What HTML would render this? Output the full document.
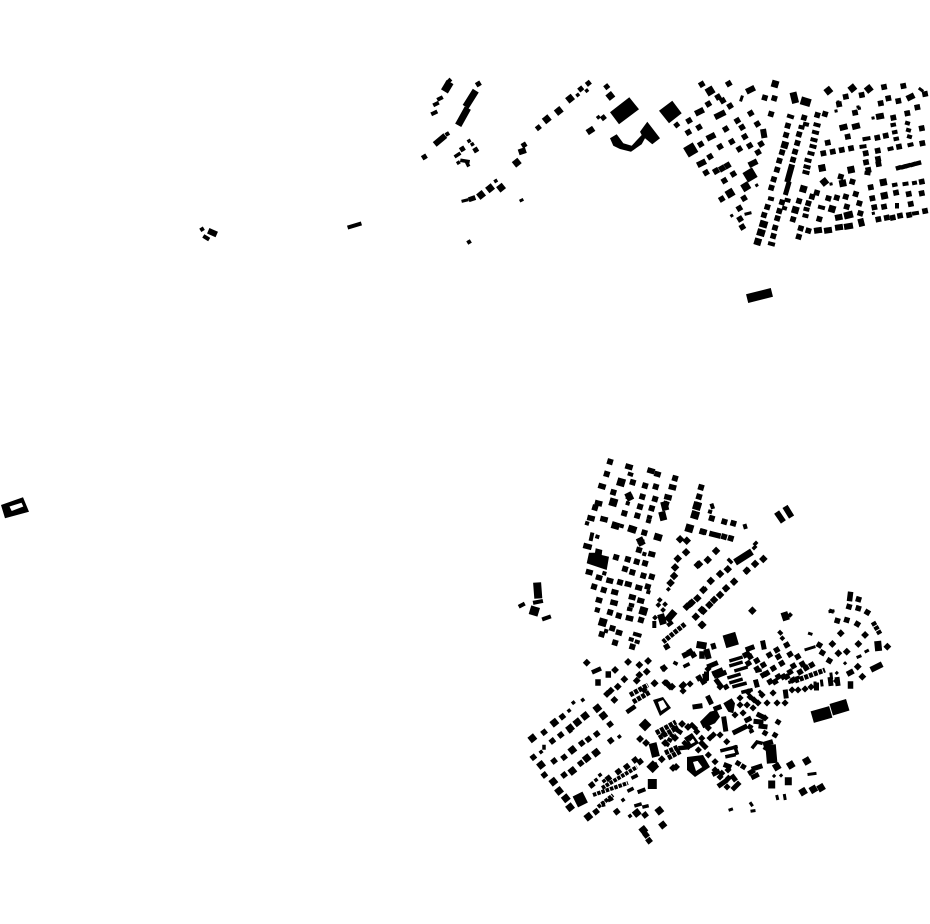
<!DOCTYPE html>
<html><head><meta charset="utf-8"><title>Figure-ground map</title>
<style>html,body{margin:0;padding:0;background:#fff}svg{display:block}</style></head>
<body>
<svg xmlns="http://www.w3.org/2000/svg" width="930" height="924" viewBox="0 0 930 924">
<rect width="930" height="924" fill="#fff"/>
<g fill="none" stroke="#000" stroke-linecap="square">
<!-- top right: west wedge -->
<path stroke-width="5.6" d="M701.7 84.3l.1-.06M728.7 83.7l.1-.06M718 97l.1-.06M722.7 100.7l.1-.06M730 106l.1-.06M708.3 104l.1-.06M689 120.7l.1-.06M688.3 132.3l.1-.06M699 127.3l.1-.06M725.7 129l.1-.06M737.3 120.7l.1-.06M750.7 113.3l.1-.06M757.3 124l.1-.06M742 127.3l.1-.06M706 172.7l.1-.06M733.3 174l.1-.06M724.3 180.7l.1-.06M721.7 199l.1-.06M700.7 144.3l.1-.06M720 146.7l.1-.06M731.7 141.7l.1-.06M744.7 136.7l.1-.06M739.3 149l.1-.06M749.7 145.7l.1-.06M761 144l.1-.06M758 152.3l.1-.06M710 156.7l.1-.06M739.3 208.3l.1-.06M740 219l.1-.06M742.3 227l.1-.06M744 198.3l.1-.06"/>
<path stroke-width="8" d="M710 91l.1-.06M730 193.3l.1-.06M745.7 186.7l.1-.06"/>
<path stroke-width="11" d="M690.7 150l.1-.06M750 175l.1-.06"/>
<path stroke-width="6" d="M749 90.5l3-1.500M698 112.500l3-1.500M717.500 116l5-2.500M709.500 137.500l3-1.500M700 164l3-1.500M751.500 164l3-1.500M716 171l.1-.06M722 168.500l.1-.06M727.500 165.500l.1-.06M763.500 132l.5 3"/>
<path stroke-width="3" d="M741 100l1-3M731.700 215.700l.1-.06M746 214l4-1M756.700 185.300l.1-.06"/>
<!-- top right: columns -->
<path stroke-width="5.600" d="M787.700 125.700l.1.03M786 135l.1.03M782 152.300l.1.03M779.300 160.700l.1.03M777 169.700l.1.03M773.700 179.300l.1.03M771.300 187.700l.1.03M767.300 207l.1.03M764 215l.1.03M804 117.700l.1.03M799 134.300l.1.03M797.300 143l.1.03M795 151.700l.1.03M793 159.700l.1.03M782 202.300l.1.03M779.300 211l.1.03M777.300 218.300l.1.03M775 227.700l.1.03M773.300 236l.1.03M817.300 115l.1.03M825 114l.1.03M799 201l.1.03M793 219.300l.1.03M808.300 203.300l.1.03M816.700 192.700l.1.03M812 196.700l.1.03M828.300 198.300l.1.03M836.700 197.700l.1.03M845.700 196.700l.1.03M855.700 194l.1.03M846.700 206.700l.1.03M859.300 203.300l.1.03M819.300 219l.1.03M860.300 213.300l.1.03M840.700 176.700l.1.03M852.300 181.700l.1.03M800.700 228.300l.1.03M798.700 236.700l.1.03M808.300 230.700l.1.03M771 114l.1.03M764.700 97.700l.1.03M774.300 98.300l.1.03"/>
<path stroke-width="7" d="M784.700 145l.1.03M795.300 210l.1.03M832 209l.1.03M775 84l.1.03M803.300 189l.1.03M763 224l1 .3M760.500 232.500l1 .3M757.700 241.700l.1.03M847.500 215.300l2-.5"/>
<path stroke-width="4" d="M789 116l3 1M770 198.500l2 .500M800.500 127l2 .500M805 124l2 .5M815.500 124.500l3 .8M814 132l3 .8M812.500 139.500l3 .8M811.500 146l3 .8M809.500 153l3 .8M806.500 160l3 .8M805.500 166.500l3 .8M804.500 172l3 .8M820 207l3 .8M805.500 209l2 .5M804.500 215.500l2 .5M770 243.500l3 .8M786.500 200l2 .5M784 208l1 .3"/>
<path stroke-width="6" d="M791.300 167.300L788 179.300"/>
<path stroke-width="5" d="M788.500 184L786 192.600"/>
<path stroke-width="7" d="M793.800 95.700l1 4"/>
<path stroke-width="8" d="M804.700 101.400l2 .6"/>
<!-- top right: east -->
<path stroke-width="5.600" d="M845.700 96.700l.1-.02M861.700 95l.1-.02M884 87l.1-.02M903.300 86l.1-.02M925 94l.1-.02M898.300 101l.1-.02M888.300 98.300l.1-.02M880.700 103.300l.1-.02M917.300 107.300l.1-.02M855 112.700l.1-.02M893.300 117.700l.1-.02M907.300 113.300l.1-.02M921.700 128.300l.1-.02M922.300 143.300l.1-.02M899 146.700l.1-.02M877.700 150.700l.1-.02M865.700 153.300l.1-.02M866 162.300l.1-.02M868.300 170l.1-.02M878 159l.1-.02M878.500 164l.1-.02M839 104.300l.1-.02M921.700 181.700l.1-.02M896 192.700l.1-.02M908.700 194l.1-.02M921.700 193.300l.1-.02M874.300 207.300l.1-.02M910.700 204l.1-.02M925 211l.1-.02M909 215l.1-.02M900 215.700l.1-.02M892.700 217.700l.1-.02M886.700 217.700l.1-.02M878.300 219.300l.1-.02M823.300 153.300l.1-.02M851 148.300l.1-.02M832.700 151.700l.1-.02M841.700 150l.1-.02M827.700 142.700l.1-.02M847.700 136.700l.1-.02M877.300 137.700l.1-.02M885.700 135.700l.1-.02M870.700 187.300l.1-.02M872.300 198.300l.1-.02M884 206.700l.1-.02"/>
<path stroke-width="7" d="M828.300 90.700l.1-.08M852.300 88.300l.1-.08M868.700 89l.1-.08M824.300 182l.1-.08M883.300 182.300l.1-.02M884.300 195.700l.1-.02M822 168l.1-.02M851 169.700l.1-.02M842.700 183.300l.1-.02"/>
<path stroke-width="4" d="M892.500 125l1.500-.3M894 132.300l1.500-.3M895.500 139l1.500-.3M907 123l1 .3M908 130l1 .3M909 136.500l1 .3M909.500 145l2-.5M889.500 149l2-.5M864.500 139l4-.7M861.500 146.700l3-.4M894 185l1.500-.3M904.500 184l2-.3M914 183l1-.2M866.500 173l2 .3M897 205l0 1.500M914 213.500l3-.5"/>
<path stroke-width="6" d="M842.500 127.500l2-.5M855 126.500l2-.5M879 116.500l2-.4M909.500 97.500l2-1M838 217.500l1.500-.3M847 215.500l1.500-.3M861 221.500l.5 2M817 230.500l2-.3M827 230.500l2-.3M838 227.500l2-.3M847 226.500l3-.5"/>
<path stroke-width="4.500" d="M898 168l1-.3M903 167l1-.3M907.500 165.800l1-.3M912.500 164.600l1-.3M917.500 163.300l1.500-.4"/>
<path stroke-width="3" d="M859.300 108.300l.1-.02M836 111l.1-.02M873 118l.1-.02M831 184l.1-.02M920 89l2 1.500M873.300 213.300l.1-.02M838 102l.1-.02M858 107l.1-.02"/>
<!-- top middle -->
<path stroke-width="8" d="M446.500 88l1.500-2.500"/>
<path stroke-width="6" d="M437 142.500l6-5"/>
<path stroke-width="7" d="M467.500 103.800L473.900 93.600M459.900 122.300L466.100 111.100"/>
<path stroke-width="4" d="M439 99l2-1M435 104.500l2-1M433 113.500l2.500-1.200M448.500 81.500l1-1M447.300 134l.1-.06"/>
<path stroke-width="5" d="M478.300 84l.1-.06M424.300 157l.1-.06M462.300 149l.1-.06M475.700 150l.1-.06M538.300 127.700l.1-.08M580.700 89l.1-.08M588.300 83.300l.1-.08M606.700 86.700l.1-.08M603.300 117.700l.1-.08M524 145l.1-.06M676.700 125l.1-.08"/>
<path stroke-width="3.500" d="M469 141l.1-.06M472.300 144.300l.1-.06M456 156l3-2M458.300 162.700l.1-.06M462 160.500l6 1M467 163l1 2M577.700 95l.1-.08M586.700 90.700l.1-.08M598.300 117.300l.1-.08M495.700 181l.1-.06"/>
<path stroke-width="7" d="M546.700 119.300l.1-.08M558.700 111l.1-.08M570 98.700l.1-.08M610.300 96l.1-.08M516.700 162.700l.1-.08M481 195l.1-.08M490 188.300l.1-.08M501 187.700l.1-.08"/>
<path stroke-width="6" d="M589.700 131l1.500-1M521.500 151.500l1.500-.5"/>
<path stroke-width="3" d="M463 201l4-1M521 200.500l1-.500"/>
<path stroke-width="5" d="M471 199l2-.7"/>
<path stroke-width="4" d="M469 242l.1-.06M202 229.300l.1-.06"/>
<path stroke-width="6" d="M211 232l3 1.300"/>
<path stroke-width="4" d="M205 237l2.500 1.500M349.500 227l10-3"/>
<path stroke-width="9" d="M751.500 297.500l16-4"/>
<!-- north town fan -->
<path stroke-width="5.800" d="M610 461.700l.1.03M606.700 474l.1.03M632.700 482.300l.1.03M645 485.700l.1.03M655.700 486.700l.1.03M675 478.300l.1.03M655 499l.1.03M651.700 508.300l.1.03M613.300 492.300l.1.03M640 506.700l.1.03M644.300 532.700l.1.03M641 541.700l.1.03M636.700 561.700l.1.03M594 586.700l.1.03M603.700 590l.1.03M620 582.300l.1.03M610 612.300l.1.03M618.700 615.700l.1.03M612.300 628.300l.1.03M615 642.700l.1.03M632.300 646.700l.1.03M701 487.300l.1.03M699 496.700l.1.03M702.300 531.700l.1.03M666 504l.1.03M698.300 505l.1.03M711.700 518.300l.1.03M724.300 521.700l.1.03M733.300 523.300l.1.03M730.700 538.300l.1.03M724 536.700l.1.03M625 569l.1.03M632.300 572.300l.1.03M643.300 575.700l.1.03M651.700 576.700l.1.03M639 550l.1.03M627.700 559.300l.1.03M645 563.300l.1.03M616 557.300l.1.03M629 496.700l.1.03M637.300 515.700l.1.03M624.300 513.300l.1.03M642.300 496.700l.1.03M595 507.700l.1.03M601.700 634.300l.1.03M647.700 586.700l.1.03M641 620l.1.03"/>
<path stroke-width="8" d="M621 482.300l.1.03M613.300 502.300l.1.03M602.700 622.300l.1.03M689.300 528.300l.1.03M695 515l.1.03M697 506l.1.03M643.300 611l.1.03"/>
<path stroke-width="4" d="M629.700 474l1.500.5M587 523.300l.1.03M627.700 503.300l.1.03M644.300 554l.1.03M604.300 573.300l.1.03M621.700 526l.1.03M648 521l1 .3M649 517l1 .3M597.300 536.700l.1.03M710 511.700l.1.03M648.300 592l.1.03M606 631l.1.03M635 634l1 .3M638.500 635l1 .3M630.700 639.300l1 .3M636.700 641.700l1 .3M630.700 605l1.500.3M629 609l1.500.3"/>
<path stroke-width="5.500" d="M628 466.500l2 .6M650 470.500l2 .6M601 486l2 .6M671.500 487l2 .5M590 518l2 .5M603 519l2 .5M597.500 503l2 .5M667 497l2 .5M657 474l1 .3M586 546l3 .8M588.500 572l1.500.4M598.500 577.500l1 .3M609 580.500l1.500.4M627.500 584l1.500.4M638 587.500l1.500.4M614 592l1.500.4M631.500 597l1.500.4M640 600.500l1.500.4M598.500 600l1 .3M613 602.500l2 .5M628.500 618l2 .5M618.500 632.500l1 .3M651 554l1.500.4M703 531.500l1 .3M712 534l6 1.500"/>
<path stroke-width="7" d="M615 525.500l1 .3M631.500 529l1.500.5M657.500 537l1 .3M629 496l.5 1M664.500 505l.5 2M662.500 515l.5 2M640.500 541l.5 1"/>
<path stroke-width="4" d="M591 539l1-4.500M712 505.500l.5 1.500M745 526l.3 1"/>
<path stroke-width="6" d="M778.300 514.500L781.700 519.500M786.600 509L790 514.500"/>
<path stroke-width="8" d="M537.400 586.500l.6 8"/>
<path stroke-width="4" d="M535 602.500l6-1.200M520.500 605.800l2.500-1.300M544 618.800l5-1.800"/>
<path stroke-width="9" d="M534.300 611l.1.03"/>
<path stroke-width="5" d="M597.300 610l.1.03"/>
<!-- fan diagonals -->
<path stroke-width="6" d="M680 539.300l.1-.1M686.700 540.700l.1-.1M686 552.300l.1-.1M677.700 558.700l.1-.1M716 551l.1-.1M707.700 560l.1-.1M699 564.300l.1-.1M675 567.500l.1-.1M674 576l.1-.1M670.500 583l.1-.1M763.300 559l.1-.1M755 564l.1-.1M727.700 569.300l.1-.1M720 574l.1-.1M710.700 581l.1-.1M703.300 590l.1-.1M697.300 598.300l.1-.1M690 604l.1-.1M695.700 616.700l.1-.1M702.300 625l.1-.1M703.300 611l.1-.1M709.300 605l.1-.1M714 600l.1-.1M720 595l.1-.1M726 588.300l.1-.1M734 581.700l.1-.1M746.700 570.700l.1-.1M752.300 610.700l.1-.1M686.700 606.700l.1-.1M691.700 602.700l.1-.1M701.700 610l.1-.1M701.700 625l.1-.1M697.700 565l.1-.1"/>
<path stroke-width="3.500" d="M668.300 589.300l.1-.1M755 544l1-1M754 548l1-1M729 560l2 2"/>
<path stroke-width="7" d="M738 560.500L749 553.500M662.500 621l-1-3.500M672.500 614l-3.500 4M785.500 617l-.5-1.500"/>
<path stroke-width="4" d="M703 590.500l2-1.500M746 571.500l2-1.200M725.500 589.500l1.500-1M733.500 582.500l1.500-1M659.700 600l.1-.1M658.300 605l.1-.1M665 604.300l.1-.1M663 610l.1-.1M655 617.700l.1-.1M654.300 626l0-3M669 624.500l2-1.500M790 615l.1-.1M780 632.500l.5.5M782.300 638.300l.1-.1M786 645l1-.3M831 611l1 .3"/>
<path stroke-width="13" d="M730.700 640l.1-.03"/>
<!-- north east ring -->
<path stroke-width="5.500" d="M850.300 594.500l-.5 4M858.500 599.300l.1.03M849 606.700l.1.03M858.300 608.300l.1.03M867.300 612.300l.1.06M837.300 620.700l.1.03M846.700 620l.1.03M857.300 624l.1.06M840.700 633.300l.1-.1M865 635l.1-.1M887.300 646.700l.1-.1M858.300 644l.1-.1M846.700 651.700l.1-.1M838.300 653.300l.1-.1M832.300 644l.1-.1M819.300 645l.1.06M822.300 652.700l.1.06M829.300 660.700l.1.06M857.700 666.700l.1-.1M862.300 676.700l.1-.1M849.500 673l1.500-.8M850.500 684l0 2"/>
<path stroke-width="7" d="M878 644.500l.3 3"/>
<path stroke-width="6" d="M873.500 668.500l6-3"/>
<path stroke-width="3" d="M806 649.500l8-2.500M809.500 633.500l1.500.5M866 651.500l1.500-.8M858 657l2-.8M845 663.300l.1-.1M836.700 673l.1-.1M831 674l.5 4M821.500 681l.5 4M815 683l0 4M835 681l3 3M830 611.500l3-.5"/>
<!-- dense centre -->
<path stroke-width="5.500" d="M666.700 646.700l.1-.06M663.500 668l.1-.06M685 655l2-1M690 651.700l.1-.06M693.300 655l.1-.06M702 654l0 2M699 678l.1-.06M703.300 681.700l.1-.06M745.500 655l2-1M786.700 645l.1-.06M776.700 650l.1-.06M769.300 655l.1-.06M778.300 656.700l.1-.06M790 654.300l.1-.06M797.700 656.700l.1-.06M793.300 666l.1-.06M802.300 664l.1-.06M811.700 665l.1-.06M750 656.700l.1-.06M748.300 663.300l.1-.06M756.700 660.700l.1-.06M763.300 665l.1-.06M766.700 673.300l.1-.06M773.300 668.300l.1-.06M781.700 663.300l.1-.06M778.300 676.700l.1-.06M770 681.700l.1-.06M786.700 676.700l.1-.06M775 681.700l.1-.06M783.300 676.700l.1-.06M763.300 675l.1-.06M790 672l.1-.06M800 672l.1-.06M806 668l.1-.06M757 669l.1-.06M793 680l.1-.06"/>
<path stroke-width="7" d="M700 645l3 .5"/>
<path stroke-width="6" d="M707 652l1 4"/>
<path stroke-width="5" d="M713.300 645.700l.3 1M748 649l4-1.500M763 643l.8 4M709.500 666l6-2.500M714.500 673l6-2.500M756 682l.8 3M704 681l.1-.1M708 669l.1-.1M664 734l.1-.1"/>
<path stroke-width="3.500" d="M731 660.500l10-3M731 665.500l10-3M736 670.500l10-3M729 677.500l10-3M731 682.500l10-3M734 686.500l11-3M685 666l3-1.500M675 663l1 .5M790 682l1-.3M797 678l1-.3M757 671l3-.7M743 692l8-2M760 692l2.500 2.500"/>
<path stroke-width="5" d="M719 675l5-2M705 676l.5 3M726 687l.1-.06M717 681l3 4M785.500 692l.5 4M792 690l.1-.1M798 690l.1-.1M805 689l.1-.1M811 687l.1-.1M816.500 685l0 3M830.300 679.500l.5 4M837.300 679.500l.5 4M773 693l.1-.1M762 695l.1-.1M767 703l.1-.1M777 703l.1-.1M785 703l.1-.1M748 692l.1-.1M758 703l.1-.1M740 698l.1-.1M740 705l.1-.1M747 705l.1-.1M753 708l.1-.1M743 713l.1-.1M735 715l.1-.1M747 720l2-1M754 700l.1-.1M750 697l.1-.1"/>
<path stroke-width="12" d="M818 715.500l7-2"/>
<path stroke-width="12" d="M837 708l5-1.500"/>
<path d="M700 721.700L710 711.700L716.700 710L720 716.700L715 723.300L703.300 728.300ZM723.300 703.300L731.700 698.300L735 703.300L733.300 713.300L728.300 711.700ZM586.700 563.300L589 552.700L595 552.700L595.700 548.300L602.300 550L601.700 555L609 556.700L606.700 570Z" fill="#000" stroke="none"/>
<path stroke-width="5" d="M716 708.500l3-1.200M695 706.700l5-.7M720 687l.1-.1M683 691l.1-.1M682 686l.1-.1M665 682.700l.1-.1M670 687l.1-.1M655 683.300l.1-.1M644 690l.1-.1M690 684l.1-.1M716 675.500l5-2.500M706.500 674l0 4M708.500 698l2 4M778 722l.1.06M759 715l3 1.500M756 721.500l5 .5M761 726.200l4 .5M765 733l.1.06M775 735l.1.06M765.500 743.800l5-1.500M766 748l.1.06M724 719l1.500 10M735 732l10-5M750 727l.1.06M726.700 741.700l.1-.1M720 735l.1-.1M713.300 735l.1-.1M708.300 728l.1-.1M710 738l.1-.1M701.700 738.300l.1-.1M696.700 731.700l.1-.1M690 738l.1-.1M701.700 743.300l.1-.1M705 746.700l.1-.1M698.300 750l.1-.1M708.300 755l.1-.1M715 761.700l.1-.1M738 763.300l.1.06M743.300 766.700l.1.06M750.500 772.500l2-1.200M753.500 776.800l3-1.500M754 768.500l6-2M765 718l.1-.1"/>
<path stroke-width="3.500" d="M722 750.500l14-3.500M727 756.500l7-1.500M735 747l2 6M752 731l-1 .5M753 747l4-5l4 1"/>
<path stroke-width="10.500" d="M771 750l.7 8"/>
<path stroke-width="5" d="M721.700 773.300l.1-.1M728 770l.1-.1M720 785l5-3.500M727 787l.1-.1M734 788l4-4M728.300 778.300l.1-.1M720 777l.1-.1M715 770l.1-.1M714.500 773.500l3-1.500M726 765.300l3 1.200M733 777l1.500 2"/>
<path stroke-width="7" d="M776.700 766.700l.1-.06M790.700 765l.1-.06M771.700 784l0 1M788.300 780.700l0 1M806.700 761l.1-.06M813.300 789.300l.1-.06M803 791.700l.1-.06M821 787.700l.1-.06"/>
<path stroke-width="3" d="M809 774.300l6-.8M774 776l.1-.1M781 775.500l.1-.1M777 796.500l.5 2M784.500 795.500l.5 3M730 809.800l1.500-.5M750.800 803.500l1 1.500M752 811l2-.3"/>
<!-- west centre -->
<path stroke-width="5.500" d="M586.700 662.700l.1-.1M598 682l0 1M608.300 674l0 1M615 670l.1-.1M628 662l.1-.1M639.300 665l.1-.1M648 661l.1-.1M664 668.300l.1-.1M646.700 671.700l.1-.1M639.300 675l.1-.1M636.700 680.700l.1-.1M654.300 683.300l.1-.1M624.300 679.300l.1-.1M617.700 686.700l.1-.1M610.700 690.700l.1-.1M607 694l.1-.1M614.300 700l.1-.1M666.700 683.300l.1-.1M672 686.700l.1-.1M683.300 685l.1-.1M640 739l.1-.1M646 743l.1-.1M665 743l.1-.1M675 738l.1-.1M673 768l.1-.1M676 767l.1-.1M688 727l.1-.1M682 724l.1-.1M661.700 759.300l.1-.1M653 766.500l2-1"/>
<path stroke-width="4.500" d="M594 671.500l5-2.200M628.500 711l5-3.500M674 728l6 4M692 725l3 3M684.500 743l4 4M680.500 748l5-.5M700.500 761l3 4"/>
<path stroke-width="9" d="M652.700 766.700l.1-.1M645 725l.1-.1"/>
<path stroke-width="8" d="M653.500 747l1.500 6"/>
<!-- south west -->
<path stroke-width="7" d="M532.300 738.300l.1-.08M554.300 722.700l.1-.08M570 728.300l.1-.08M577.300 722.300l.1-.08M585 716l.1-.08M597.300 708.300l.1-.08M603.300 715.700l.1-.08M572.300 750l.1-.08M596 752.700l.1-.08M541 765l.1-.08M586.700 758.300l.1-.08M572.300 771l.1-.08M553.300 781.700l.1-.08M559 791l.1-.08M565.700 798.300l.1-.08M570 807.300l.1-.08M588.300 816.700l.1-.08M636.700 813l.1-.08M659.300 810.700l.1-.08M643.300 830l.1-.08"/>
<path stroke-width="5.500" d="M544 732.300l.1-.08M562.300 716.700l.1-.08M610 724.300l.1-.08M552.300 741l.1-.08M560.700 735l.1-.08M596.700 734l.1-.08M588.300 739.300l.1-.08M581.700 743.300l.1-.08M564 757.300l.1-.08M554 761l.1-.08M533.300 757.300l.1-.08M544.300 775l.1-.08M580.700 763.300l.1-.08M564 775l.1-.08M610.700 740.700l.1-.08M596 811.700l.1-.08M649 840.700l.1-.08M646 835l.1-.08M591.700 785l.1-.08M608.300 778.300l.1-.08M618.300 771.700l.1-.08M626.700 766.700l.1-.08M635 760l.1-.08M640 761.700l.1-.08M645 815l.1-.08M616.700 811.700l.1-.08"/>
<path stroke-width="3.500" d="M569 710.700l.1-.08M573.300 702.700l.1-.08M582.700 700l.1-.08M619.300 736.700l.1-.08M600 775l.1-.08M630 816l.1-.08M541 752l.1-.08M544 746.500l0 1.500M623 800l.1-.08M609.500 800l2-1M603 803l.5 2M629 790.500l3-1.500M633 777.500l3-1.500M636 805.500l4-1.200M644 806.800l3-.7M604 781l.1-.08M596 780l.1-.08"/>
<path stroke-width="11" d="M580 799l.5 1"/>
<path stroke-width="9" d="M652.300 783.500l0 1"/>
<path stroke-width="4" d="M570 731l.1-.08M639.500 791.500l4-1.500"/>
<path stroke-width="6.500" d="M662.700 825l.1-.08"/>
</g>
<!-- segmented strips -->
<g fill="none" stroke="#000" stroke-linecap="butt">
<path stroke-width="4" stroke-dasharray="3.500 1" d="M602 788L637 767M593 795L628 783M598 807L613 795"/>
<path stroke-width="5" stroke-dasharray="4 1" d="M685 624L663 642M873 622L880 634M795 681L825 670M630 695L648 685M633 702L650 692M656 733L676 722M659 738L678 727M666 746L674 733M668 758L681 751M665 753L678 747"/>
</g>
<g fill="#000" fill-rule="evenodd">
<path d="M610 112.300L629.300 97.300L639 109.300L619 124.300ZM659 110.700L672.300 100.700L681.700 113.300L669 123.300ZM610 138.300L616.700 134.300L623.300 143.300L631.700 145.700L641.700 135L640 131.700L647.300 121.700L660 138.300L652.300 144.300L645 138.300L641.700 144.300L631 151.700L620 149L613.300 145.700Z"/>
<path d="M1 505L23 497.300L29 511.700L5 518.300ZM9.500 506.500L21.500 502.700L23.300 506.500L11.700 511Z"/>
<path d="M687 757L703 755L710 767L695 777L687 770ZM693 762L701 760L704 766L696 771Z"/>
<path d="M653 700L663 697L671 708L660 716ZM658 702L663 700L667 707L661 711Z"/>
<path d="M684 738L692 733L699 743L691 748ZM688 739L692 737L695 742L691 744Z"/>
</g>
</svg>
</body></html>
